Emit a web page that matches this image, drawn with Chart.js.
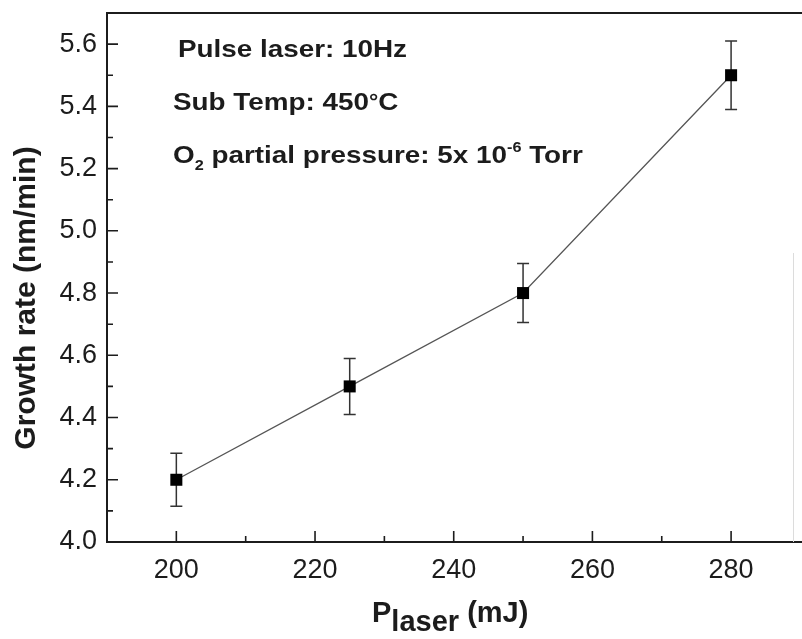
<!DOCTYPE html>
<html>
<head>
<meta charset="utf-8">
<script src="https://cdn.jsdelivr.net/npm/chart.js@4.4.1/dist/chart.umd.min.js"></script>
<style>
html,body{margin:0;padding:0;background:#fff;overflow:hidden}
#wrap{width:802px;height:639px}
</style>
</head>
<body>
<div id="wrap"><canvas id="c" width="802" height="639"></canvas></div>
<script>
// data
const laserEnergy=[200,225,250,280];
const growthRate=[4.2,4.5,4.8,5.5];
const growthErr=[0.085,0.09,0.095,0.11];

const xTicks=[200,220,240,260,280];
const xMinor=[210,230,250,270];
const yTicks=[4.0,4.2,4.4,4.6,4.8,5.0,5.2,5.4,5.6];
const yMinor=[4.1,4.3,4.5,4.7,4.9,5.1,5.3,5.5];

const FAM="'Liberation Sans', Arial, Helvetica, sans-serif";
const INK='#1c1c1c';

// text runs: [text, size, dy]
const notes=[
  {x:178,y:57,runs:[['Pulse laser: 10Hz',24,0]]},
  {x:173,y:110,runs:[['Sub Temp: 450',24,0],['°',20,-2],['C',24,0]]},
  {x:173,y:163,runs:[['O',24,0],['2',14,7],[' partial pressure: 5x 10',24,0],['-6',14,-11],[' Torr',24,0]]}
];

function drawRuns(ctx,x,y,runs,sx){
  ctx.save();ctx.translate(x,y);ctx.scale(sx,1);
  ctx.fillStyle=INK;ctx.textAlign='left';ctx.textBaseline='alphabetic';
  let cx=0;
  for(const [t,size,dy] of runs){ctx.font=`bold ${size}px ${FAM}`;ctx.fillText(t,cx,dy);cx+=ctx.measureText(t).width;}
  ctx.restore();
}

const noPad=s=>{s.paddingTop=0;s.paddingBottom=0;s.paddingLeft=0;s.paddingRight=0;};

const frame={
  id:'frame',
  beforeDatasetsDraw(chart){
    const {ctx,scales:{x,y}}=chart;
    ctx.save();ctx.strokeStyle='#333';ctx.lineWidth=1.5;
    laserEnergy.forEach((v,i)=>{
      const px=x.getPixelForValue(v);
      const top=y.getPixelForValue(growthRate[i]+growthErr[i]);
      const bot=y.getPixelForValue(growthRate[i]-growthErr[i]);
      ctx.beginPath();
      ctx.moveTo(px,top);ctx.lineTo(px,bot);
      ctx.moveTo(px-6,top);ctx.lineTo(px+6,top);
      ctx.moveTo(px-6,bot);ctx.lineTo(px+6,bot);
      ctx.stroke();
    });
    ctx.restore();
  },
  afterDraw(chart){
    const {ctx,chartArea:a,scales:{x,y}}=chart;
    ctx.save();
    ctx.strokeStyle=INK;ctx.lineWidth=2;
    ctx.beginPath();
    ctx.moveTo(a.left,a.top);ctx.lineTo(chart.width,a.top);
    ctx.moveTo(a.right,a.bottom);ctx.lineTo(chart.width,a.bottom);
    ctx.stroke();
    // right edge is barely visible in the scan
    ctx.strokeStyle='#dcdcdc';ctx.lineWidth=1;
    ctx.beginPath();ctx.moveTo(a.right,a.top+240);ctx.lineTo(a.right,a.bottom);ctx.stroke();
    // inward ticks
    ctx.strokeStyle=INK;ctx.lineWidth=1.6;ctx.beginPath();
    xTicks.forEach(v=>{const p=x.getPixelForValue(v);ctx.moveTo(p,a.bottom);ctx.lineTo(p,a.bottom-11);});
    xMinor.forEach(v=>{const p=x.getPixelForValue(v);ctx.moveTo(p,a.bottom);ctx.lineTo(p,a.bottom-6);});
    yTicks.forEach(v=>{const p=y.getPixelForValue(v);ctx.moveTo(a.left,p);ctx.lineTo(a.left+11,p);});
    yMinor.forEach(v=>{const p=y.getPixelForValue(v);ctx.moveTo(a.left,p);ctx.lineTo(a.left+6,p);});
    ctx.stroke();
    // notes
    notes.forEach(n=>drawRuns(ctx,n.x,n.y,n.runs,1.16));
    // y title
    ctx.save();
    ctx.translate(35,298);ctx.rotate(-Math.PI/2);
    ctx.font=`bold 30px ${FAM}`;ctx.fillStyle=INK;ctx.textAlign='center';ctx.textBaseline='alphabetic';
    ctx.fillText('Growth rate (nm/min)',0,0);
    ctx.restore();
    // x title
    drawRuns(ctx,372,622,[['P',29,0],['laser',29,9],[' (mJ)',29,0]],1.0);
    ctx.restore();
  }
};

new Chart(document.getElementById('c'),{
  type:'line',
  data:{datasets:[{
    data:laserEnergy.map((v,i)=>({x:v,y:growthRate[i]})),
    borderColor:'#555',borderWidth:1.3,
    pointStyle:'rect',pointRadius:8.5,pointHoverRadius:8.5,
    pointBackgroundColor:'#000',pointBorderColor:'#000',pointBorderWidth:0,
    tension:0,fill:false,clip:false
  }]},
  options:{
    responsive:false,animation:false,
    layout:{padding:{top:13,right:2,left:0,bottom:0}},
    plugins:{legend:{display:false},tooltip:{enabled:false}},
    scales:{
      x:{type:'linear',min:190,max:289,
        afterBuildTicks:s=>{s.ticks=xTicks.map(v=>({value:v}));},
        afterFit:s=>{s.height=97;noPad(s);},
        grid:{display:false,drawTicks:false},
        border:{display:true,color:INK,width:2},
        ticks:{color:INK,font:{family:FAM,size:27},padding:12,maxRotation:0}},
      y:{type:'linear',min:4.0,max:5.7,
        afterBuildTicks:s=>{s.ticks=yTicks.map(v=>({value:v}));},
        afterFit:s=>{s.width=107;noPad(s);},
        grid:{display:false,drawTicks:false},
        border:{display:true,color:INK,width:2},
        ticks:{color:INK,font:{family:FAM,size:27},padding:10,callback:v=>Number(v).toFixed(1)}}
    }
  },
  plugins:[frame]
});
</script>
</body>
</html>
